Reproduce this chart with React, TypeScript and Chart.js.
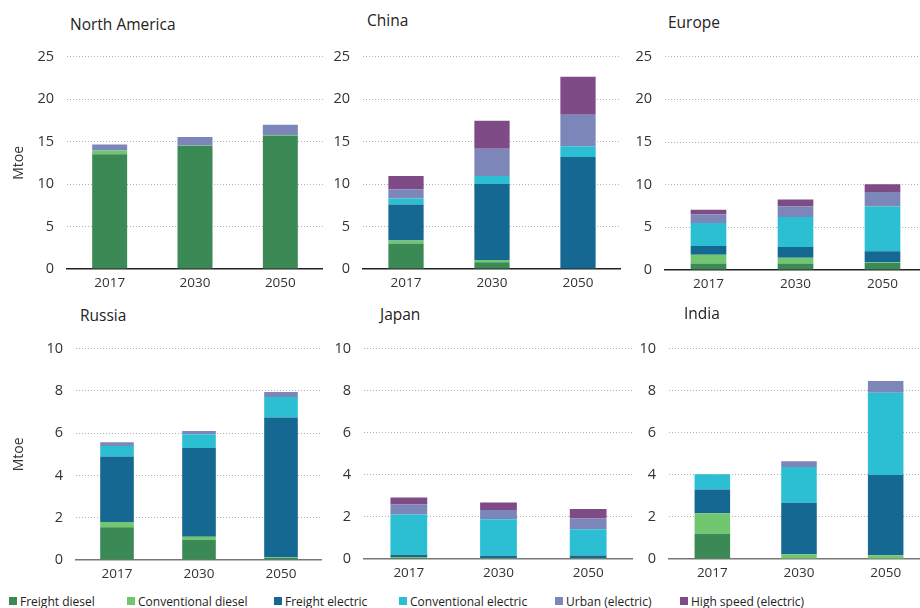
import React, { useEffect, useRef } from "react";
import { Chart, registerables } from "chart.js";

Chart.register(...registerables);

const years = ["2017", "2030", "2050"];
const seriesNames = [
  "Freight diesel",
  "Conventional diesel",
  "Freight electric",
  "Conventional electric",
  "Urban (electric)",
  "High speed (electric)",
];
const seriesColors = ["#3b8a55", "#70c770", "#156891", "#2cbfd4", "#7c86b9", "#7f4b86"];

// Values per region: one row per series (order as seriesNames), columns = years
const northAmerica = [
  [13.5, 14.5, 15.7],
  [0.45, 0.05, 0.08],
  [0, 0, 0],
  [0, 0, 0],
  [0.7, 1.0, 1.2],
  [0, 0, 0],
];
const china = [
  [3.0, 0.8, 0.05],
  [0.35, 0.25, 0],
  [4.25, 8.95, 13.15],
  [0.7, 0.95, 1.25],
  [1.1, 3.2, 3.7],
  [1.55, 3.3, 4.5],
];
const europe = [
  [0.75, 0.75, 0.85],
  [1.05, 0.7, 0.05],
  [1.0, 1.25, 1.3],
  [2.7, 3.5, 5.25],
  [1.0, 1.25, 1.7],
  [0.55, 0.8, 0.9],
];
const russia = [
  [1.55, 0.95, 0.1],
  [0.25, 0.15, 0.02],
  [3.1, 4.2, 6.62],
  [0.5, 0.65, 0.98],
  [0.17, 0.15, 0.23],
  [0, 0, 0],
];
const japan = [
  [0.05, 0.03, 0.02],
  [0.05, 0.02, 0.02],
  [0.1, 0.1, 0.13],
  [1.92, 1.74, 1.24],
  [0.47, 0.44, 0.51],
  [0.33, 0.36, 0.46],
];
const india = [
  [1.2, 0.02, 0.02],
  [0.98, 0.2, 0.16],
  [1.13, 2.45, 3.82],
  [0.72, 1.7, 3.9],
  [0, 0.28, 0.57],
  [0, 0, 0],
];

const topAxisMax = 25;
const topAxisStep = 5;
const bottomAxisMax = 10;
const bottomAxisStep = 2;
const yAxisTitle = "Mtoe";

type Panel = {
  title: string;
  values: number[][];
  max: number;
  step: number;
  showYTitle: boolean;
  plotLeft: number;
  plotRight: number;
  plotTop: number;
  plotBottom: number;
  yw: number;
  titleX: number;
  titleY: number;
  axisColor: string;
};

const panels: Panel[] = [
  { title: "North America", values: northAmerica, max: topAxisMax, step: topAxisStep, showYTitle: true, plotLeft: 67, plotRight: 323, plotTop: 47, plotBottom: 269, yw: 67, titleX: 70, titleY: 14, axisColor: "#222" },
  { title: "China", values: china, max: topAxisMax, step: topAxisStep, showYTitle: false, plotLeft: 363, plotRight: 621, plotTop: 47, plotBottom: 269, yw: 40, titleX: 367, titleY: 10, axisColor: "#222" },
  { title: "Europe", values: europe, max: topAxisMax, step: topAxisStep, showYTitle: false, plotLeft: 665, plotRight: 926, plotTop: 47, plotBottom: 270, yw: 40, titleX: 668, titleY: 12, axisColor: "#222" },
  { title: "Russia", values: russia, max: bottomAxisMax, step: bottomAxisStep, showYTitle: true, plotLeft: 76, plotRight: 322, plotTop: 339, plotBottom: 560, yw: 76, titleX: 80, titleY: 305, axisColor: "#777" },
  { title: "Japan", values: japan, max: bottomAxisMax, step: bottomAxisStep, showYTitle: false, plotLeft: 364, plotRight: 633, plotTop: 339, plotBottom: 559, yw: 40, titleX: 380, titleY: 304, axisColor: "#777" },
  { title: "India", values: india, max: bottomAxisMax, step: bottomAxisStep, showYTitle: false, plotLeft: 669, plotRight: 929, plotTop: 339, plotBottom: 559, yw: 40, titleX: 684, titleY: 303, axisColor: "#777" },
];

const legendX = [9, 127, 274, 399, 555, 680];

const FONT = "'Open Sans', 'Noto Sans', sans-serif";
const PAD_TOP = 12;
const X_AXIS_H = 30;

function PanelChart({ p }: { p: Panel }) {
  const ref = useRef<HTMLCanvasElement | null>(null);
  const left = p.plotLeft - p.yw;
  const top = p.plotTop - PAD_TOP;
  const width = p.plotRight - left;
  const height = p.plotBottom + X_AXIS_H - top;

  useEffect(() => {
    if (!ref.current) return;
    const chart = new Chart(ref.current, {
      type: "bar",
      data: {
        labels: years,
        datasets: seriesNames.map((name, i) => ({
          label: name,
          data: p.values[i],
          backgroundColor: seriesColors[i],
          borderWidth: 0,
          barPercentage: 0.41,
          categoryPercentage: 1,
        })),
      },
      options: {
        animation: false,
        responsive: false,
        maintainAspectRatio: false,
        layout: { padding: { top: PAD_TOP, left: 0, right: 0, bottom: 0 } },
        plugins: { legend: { display: false }, tooltip: { enabled: false }, title: { display: false } },
        scales: {
          x: {
            stacked: true,
            grid: { display: false, drawTicks: false },
            border: { display: true, color: p.axisColor, width: 1.5 },
            ticks: { color: "#333", font: { family: FONT, size: 13.5 }, padding: 6 },
            afterFit: (s: any) => {
              s.height = X_AXIS_H;
            },
          },
          y: {
            stacked: true,
            min: 0,
            max: p.max,
            ticks: { stepSize: p.step, color: "#333", font: { family: FONT, size: 14.5 }, padding: 13 },
            grid: {
              drawTicks: false,
              color: (ctx: any) => (ctx.tick && ctx.tick.value === 0 ? "rgba(0,0,0,0)" : "#b0b0b0"),
              lineWidth: 1,
            },
            border: { display: false, dash: [1, 2] },
            title: {
              display: p.showYTitle,
              text: yAxisTitle,
              color: "#333",
              font: { family: FONT, size: 14 },
              padding: { top: 11, bottom: 0 },
            },
            afterFit: (s: any) => {
              s.width = p.yw;
            },
          },
        },
      },
    } as any);
    return () => chart.destroy();
  }, []);

  return (
    <>
      <canvas
        ref={ref}
        width={width}
        height={height}
        style={{ position: "absolute", left, top, width, height }}
      />
      <div
        style={{
          position: "absolute",
          left: p.titleX,
          top: p.titleY,
          fontFamily: FONT,
          fontSize: 15.5,
          lineHeight: "20px",
          color: "#222",
          whiteSpace: "nowrap",
        }}
      >
        {p.title}
      </div>
    </>
  );
}

export default function App() {
  return (
    <div
      style={{
        position: "absolute",
        left: 0,
        top: 0,
        width: 920,
        height: 608,
        overflow: "hidden",
        background: "#fff",
      }}
    >
      {panels.map((p) => (
        <PanelChart key={p.title} p={p} />
      ))}
      {seriesNames.map((name, i) => (
        <div
          key={name}
          style={{
            position: "absolute",
            left: legendX[i],
            top: 592,
            height: 18,
            display: "flex",
            alignItems: "center",
            fontFamily: FONT,
            fontSize: 12,
            color: "#222",
            whiteSpace: "nowrap",
          }}
        >
          <span
            style={{
              display: "inline-block",
              width: 8,
              height: 8,
              background: seriesColors[i],
              marginRight: 3,
            }}
          />
          {name}
        </div>
      ))}
    </div>
  );
}
